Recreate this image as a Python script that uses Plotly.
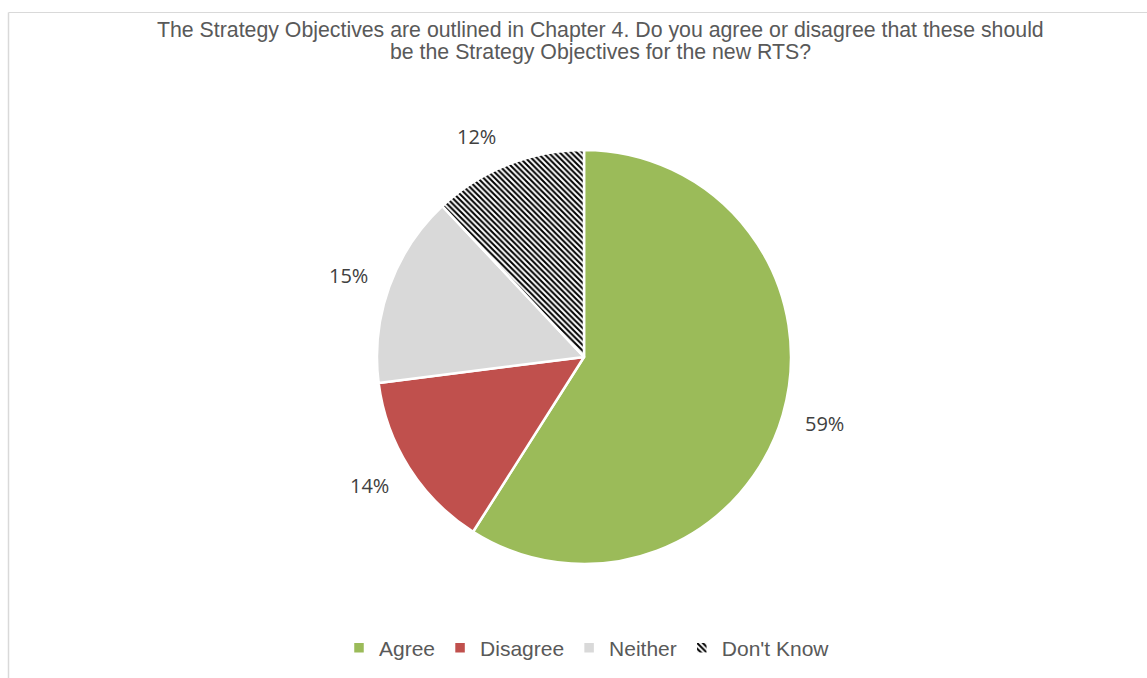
import math
import plotly.graph_objects as go

# Survey responses (percent of respondents)
categories = ["Agree", "Disagree", "Neither", "Don't Know"]
shares = [59, 14, 15, 12]
colors = ["#9BBB59", "#C0504D", "#D9D9D9", "#FFFFFF"]

W, H = 1147, 678
CX, CY, R = 584, 357, 207  # pie centre / radius in pixels
LABEL_R = 1.205             # label distance as a multiple of the radius
label_nudge = [(1, -3), (-4, -5), (-1, 3), (-16, 11)]  # per-label pixel tweaks

title_lines = [
    "The Strategy Objectives are outlined in Chapter 4. Do you agree or disagree that these should",
    "be the Strategy Objectives for the new RTS?",
]
title_y = [30, 52]

fig = go.Figure()
fig.add_trace(go.Pie(
    labels=categories,
    values=shares,
    sort=False,
    direction="clockwise",
    rotation=0,
    textinfo="none",
    hoverinfo="label+percent",
    marker=dict(
        colors=colors,
        line=dict(color="white", width=2.5),
        pattern=dict(
            shape=["", "", "", "\\"],
            fgcolor="black",
            bgcolor="white",
            size=4,
            solidity=0.5,
        ),
    ),
    domain=dict(x=[(CX - R) / W, (CX + R) / W],
                y=[(H - CY - R) / H, (H - CY + R) / H]),
))

# Percentage labels placed just outside each slice's mid-angle
total = sum(shares)
cum = 0
annotations = []
for val, (nx, ny) in zip(shares, label_nudge):
    mid = (cum + val / 2) / total * 2 * math.pi
    cum += val
    px = CX + R * LABEL_R * math.sin(mid) + nx
    py = CY - R * LABEL_R * math.cos(mid) + ny
    annotations.append(dict(
        x=px / W, y=1 - py / H, xref="paper", yref="paper",
        text=f"{round(val / total * 100)}%", showarrow=False,
        font=dict(family="Open Sans, Calibri, sans-serif", size=20, color="#404040"),
        xanchor="center", yanchor="middle",
    ))

for line, ty in zip(title_lines, title_y):
    annotations.append(dict(
        x=600 / W, y=1 - ty / H, xref="paper", yref="paper",
        text=line, showarrow=False, align="center",
        font=dict(family="Liberation Sans, Arial, sans-serif", size=21.3, color="#595959"),
        xanchor="center", yanchor="middle",
    ))

fig.update_layout(
    width=W, height=H,
    margin=dict(l=0, r=0, t=0, b=0),
    paper_bgcolor="white",
    plot_bgcolor="white",
    annotations=annotations,
    showlegend=True,
    legend=dict(
        orientation="h",
        x=587 / W, xanchor="center",
        y=1 - 648 / H, yanchor="middle",
        font=dict(family="Liberation Sans, Arial, sans-serif", size=21, color="#595959"),
        itemwidth=30,
        traceorder="normal",
    ),
    shapes=[
        dict(type="line", xref="paper", yref="paper",
             x0=8.5 / W, x1=1, y0=1 - 12.5 / H, y1=1 - 12.5 / H,
             line=dict(color="#D9D9D9", width=1)),
        dict(type="line", xref="paper", yref="paper",
             x0=8.5 / W, x1=8.5 / W, y0=0, y1=1 - 12.5 / H,
             line=dict(color="#D9D9D9", width=1.5)),
    ],
)

fig.write_html("out.html")
